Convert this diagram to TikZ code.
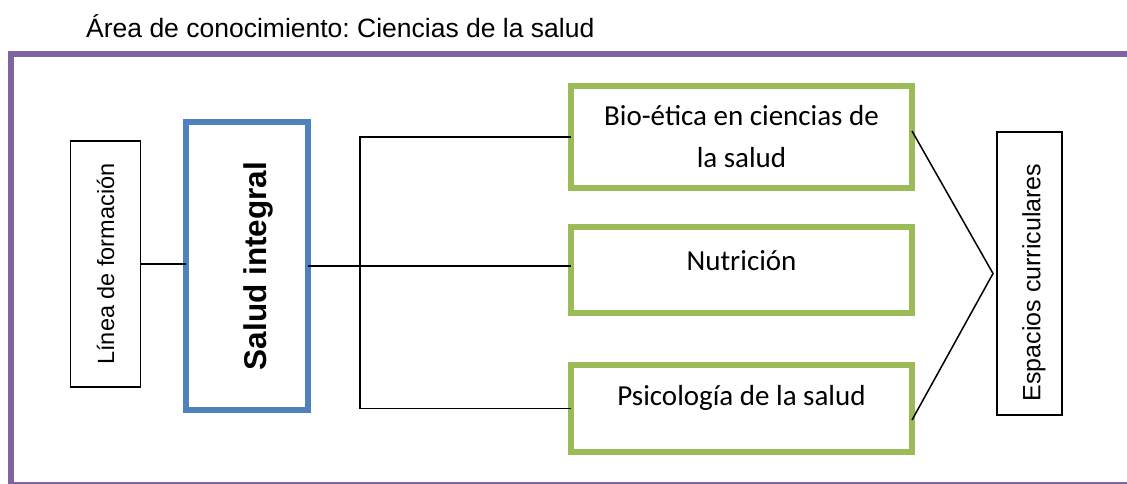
\documentclass[tikz,border=0pt]{standalone}
\usepackage{fontspec}
\usepackage{graphicx}
\setmainfont{Liberation Sans}
\newfontfamily\calibri{Carlito}
\usetikzlibrary{positioning}
\frenchspacing

\definecolor{framepurple}{HTML}{8064A2}
\definecolor{boxblue}{HTML}{4F81BD}
\definecolor{boxgreen}{HTML}{9BBB59}

\tikzset{
    thinbox/.style={draw, line width=1.5pt, inner sep=0pt, outer sep=0pt},
    mainbox/.style={draw=boxblue, line width=6pt, inner sep=0pt, outer sep=0pt,
        minimum width=122pt, minimum height=288pt,
        font=\fontsize{31.5}{36}\selectfont\bfseries},
    subjbox/.style={draw=boxgreen, line width=6pt, inner sep=0pt, outer sep=0pt,
        minimum width=341pt, align=center,
        font=\calibri\fontsize{29}{42}\selectfont},
    link/.style={line width=1.5pt},
}

\begin{document}
\begin{tikzpicture}[x=1pt, y=-1pt]
    \useasboundingbox (0,0) rectangle (1127,483);

    % Frame
    \draw[framepurple, line width=6pt] (1140,53.5) -- (10.5,53.5) -- (10.5,485) -- (1140,485);
    \node[anchor=base west, inner sep=0pt, font=\fontsize{26.5}{30}\selectfont] (title) at (86,37)
        {Área de conocimiento: Ciencias de la salud};

    % Boxes
    \node[thinbox, minimum width=70pt, minimum height=246pt, font=\fontsize{23.5}{28}\selectfont]
        (linea) at (105.5,264) {\rotatebox{90}{Línea de formación}};
    \node[mainbox] (salud) at (247,266) {\hspace*{22pt}\rotatebox{90}{Salud integral}};

    \node[subjbox, minimum height=102pt] (bio) at (741.5,137) {Bio-ética en ciencias de\\la salud};
    \node[subjbox, minimum height=86pt, text height=20pt, text depth=20pt] (nutri) at (741.5,270) {Nutrición};
    \node[subjbox, minimum height=87pt, text height=20pt, text depth=27pt] (psico) at (741.5,408.5) {Psicología de la salud};

    \node[thinbox, minimum width=65pt, minimum height=283pt, font=\fontsize{25}{30}\selectfont]
        (esp) at (1029.5,273.5) {\hspace*{9pt}\rotatebox{90}{Espacios curriculares\hspace*{18pt}}};

    % Connectors
    \coordinate (fork) at (360,265);
    \coordinate (apex) at ([xshift=-4pt]esp.west);
    \draw[link] (linea.east) -- (linea.east -| salud.west);
    \draw[link] (salud.east) -- (salud.east -| nutri.west);
    \draw[link] (bio.west) -| (fork) |- (psico.west);
    \draw[link] ([yshift=6pt]bio.east) -- (apex) -- ([yshift=-11.5pt]psico.east);
\end{tikzpicture}
\end{document}
